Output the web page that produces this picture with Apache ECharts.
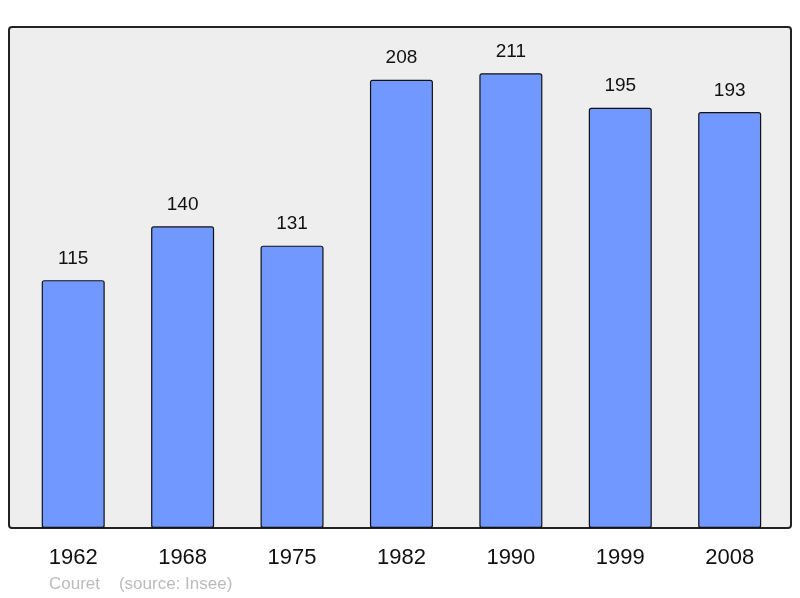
<!DOCTYPE html>
<html>
<head>
<meta charset="utf-8">
<script src="https://cdn.jsdelivr.net/npm/echarts@6/dist/echarts.min.js"></script>
<style>
  html, body { margin: 0; padding: 0; background: #fff; }
  #chart { width: 800px; height: 598px; }
</style>
</head>
<body>
<div id="chart"></div>
<script>
var years = ['1962', '1968', '1975', '1982', '1990', '1999', '2008'];
var population = [115, 140, 131, 208, 211, 195, 193];

var chart = echarts.init(document.getElementById('chart'));
chart.setOption({
  animation: false,
  graphic: [
    { type: 'rect', z: -10, shape: { x: 9, y: 27, width: 782, height: 501, r: 3 },
      style: { fill: '#eeeeee', stroke: '#222', lineWidth: 2 } },
    { type: 'text', left: 49, top: 576,
      style: { text: 'Couret    (source: Insee)', fill: '#bbbbbb', font: '17px "Liberation Sans", Arial, sans-serif' } }
  ],
  grid: { left: 18.5, right: 15.6, top: 28, bottom: 70, containLabel: false },
  xAxis: {
    type: 'category',
    data: years,
    axisLine: { show: false },
    axisTick: { show: false },
    axisLabel: { color: '#111', fontSize: 22, margin: 19, fontFamily: 'Liberation Sans, Arial, sans-serif' }
  },
  yAxis: {
    type: 'value', min: 0, max: 232,
    show: false,
    splitLine: { show: false }
  },
  series: [{
    type: 'bar',
    data: population,
    barWidth: 63,
    itemStyle: { color: '#7098ff', borderColor: '#111', borderWidth: 1.2, borderRadius: 2 },
    label: {
      show: true, position: 'top', distance: 12,
      color: '#111', fontSize: 19, fontFamily: 'Liberation Sans, Arial, sans-serif'
    }
  }]
});
</script>
</body>
</html>
